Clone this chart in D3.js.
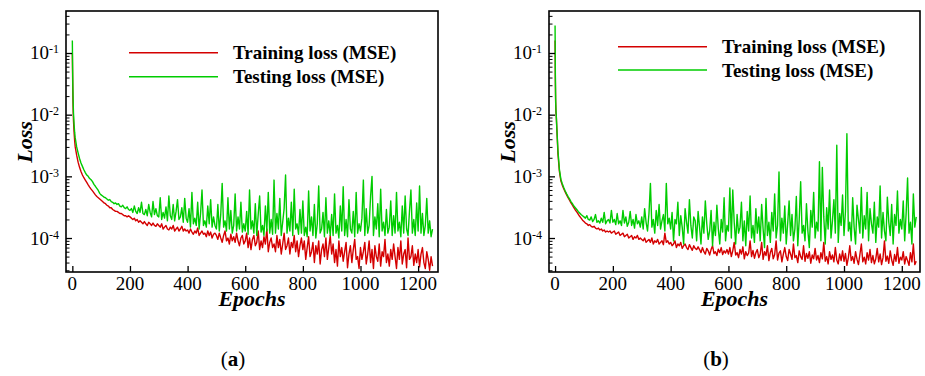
<!DOCTYPE html>
<html>
<head>
<meta charset="utf-8">
<script src="https://cdn.jsdelivr.net/npm/d3@7"></script>
<style>
  body { margin: 0; background: #fff; }
  text { font-family: "Liberation Serif", "Times New Roman", serif; fill: #000; }
</style>
</head>
<body>
<svg width="925" height="376"></svg>
<script>
// loss values are written in units of 1e-5 (so 10 == 1e-4)
var UNIT = 1e-5;

// sampled epochs: a few early ones, then every 5 epochs
var epochs = [0, 1, 2, 3, 4, 6, 8].concat(d3.range(10, 1251, 5));

var trainA = [
  10000, 4000, 1800, 1100, 800, 520, 380,
  300, 220, 170, 140, 120, 105, 95, 87, 80, 73, 67, 62, 58, 54, 50, 47, 45, 43,
  41, 39, 37, 36, 34, 33, 31, 31, 29, 28, 27, 27, 26, 25, 25, 24, 23, 23, 22, 23,
  22, 21, 20, 21, 19, 20, 18, 19, 18, 17, 18.5, 17, 16, 18, 17, 16, 17.5, 16, 15.5, 17,
  16, 15, 17, 14, 15, 16, 14, 13.5, 15, 14, 16, 13, 14, 15, 13, 14, 15.5, 13, 14, 13,
  13.5, 12, 14, 12.5, 11.5, 13, 12, 14.5, 11, 12, 13, 11.5, 12, 10.5, 13, 11, 12.5, 10, 11.5, 12,
  11, 9.5, 12, 10, 8.5, 11, 13, 9, 10, 8, 11.5, 9, 10.5, 8.5, 12, 9, 7.5, 10, 11, 8,
  9, 12, 7, 10, 6.5, 9.5, 11, 7.5, 8.5, 13, 6.5, 9, 7, 10.5, 8, 14, 6, 8.5, 10, 7,
  8, 6, 11, 7, 9.5, 5.5, 8, 12, 6.5, 7.5, 10, 5.5, 8.5, 7, 11, 6, 9, 5, 7.5, 10,
  6.5, 9, 4.5, 7, 10.5, 5, 6, 8.5, 4, 7.5, 5.5, 9, 3.8, 6.5, 8, 5, 10, 4.5, 7, 11,
  5.5, 8, 4, 6.5, 3.5, 9, 5, 7, 4.2, 6, 8.5, 3.3, 5.5, 7.5, 4, 6.5, 9.5, 4.5, 5, 3.2,
  7, 4.5, 6, 8.5, 3.8, 5.5, 9, 4, 6.5, 3.2, 7.5, 5, 4.2, 8, 3.5, 6, 5, 9.5, 4, 5.5,
  3.5, 6.5, 4.5, 8, 5, 3.2, 7, 4.5, 9, 3.8, 5.5, 6.5, 3.3, 10, 4.5, 5, 7.5, 3.6, 5.5, 4,
  6.5, 3.4, 5.5, 7, 4, 3.2, 6, 4.5, 3, 5, 3.5
];

var testA = [
  16000, 5500, 2500, 1500, 1050, 700, 520,
  420, 300, 240, 195, 165, 145, 128, 115, 105, 100, 92, 88, 82, 74, 69, 64, 59, 53,
  50, 48, 46, 45, 43, 41, 42, 39, 38, 36, 37, 35, 36, 33, 32, 34, 31, 30, 32, 29,
  28, 30, 26, 33, 27, 25, 31, 26, 38, 25, 24, 29, 23, 35, 26, 22, 39, 24, 30, 23,
  22, 45, 20, 26, 21, 32, 19, 48, 23, 20, 35, 19, 27, 42, 20, 22, 31, 18, 44, 21,
  18, 30, 15, 55, 17, 21, 16, 38, 14, 25, 60, 16, 19, 15, 33, 17, 42, 15, 22, 16,
  14, 35, 13, 24, 77, 15, 19, 13, 45, 14, 28, 12, 16, 52, 13, 22, 14, 38, 12.5, 17,
  13, 27, 11.5, 60, 14, 19, 12, 36, 11, 24, 48, 12.5, 16, 11, 33, 13, 55, 12, 20, 11.5,
  87, 12, 25, 14, 44, 11, 18, 30, 105, 12, 21, 13, 38, 11, 62, 14, 17, 11.5, 29, 12,
  40, 11, 15, 10.5, 58, 13, 22, 11, 35, 10, 17, 70, 12, 14, 26, 10.5, 45, 12, 19, 11,
  24, 11, 52, 12, 16, 10, 33, 13, 68, 11, 20, 10.5, 42, 14, 12, 27, 10.5, 55, 12, 17,
  13, 21, 87, 11, 30, 12, 16, 47, 100, 11, 22, 14, 36, 10.5, 62, 13, 18, 11, 29, 12,
  15, 40, 11, 23, 12, 55, 13, 18, 10.5, 33, 12, 48, 14, 11, 27, 60, 12, 20, 11, 37,
  13, 70, 12, 25, 11, 16, 44, 12, 19, 10.5, 14
];

var trainB = [
  16000, 3500, 1600, 1100, 1000, 600, 380,
  230, 120, 85, 72, 63, 56, 50, 45, 41, 37, 34, 31, 28.5, 26.5, 24.5, 22.5, 21, 19.5,
  18.5, 17.5, 17, 16, 16.5, 15.5, 15, 15.5, 14.5, 14, 14.5, 13.5, 14, 13, 13.5, 12.5, 13, 12.5, 13, 12,
  12.5, 13, 11.5, 12, 12.5, 11, 11.5, 12, 10.5, 11, 11.5, 10, 10.5, 11, 9.5, 10.5, 10, 11, 9.5, 10,
  9.5, 9, 10, 8.5, 9, 9.5, 8.5, 10, 8, 9, 8.5, 9.5, 8, 8.5, 9, 7.8, 12, 8.5, 9, 8,
  8.5, 7.5, 8, 9, 7, 8, 7.5, 8.5, 6.8, 7.5, 8, 7, 6.5, 7.8, 7, 6.3, 7.5, 6.8, 6.5, 7.2,
  6.5, 5.8, 7, 6, 5.5, 6.8, 6.2, 5.3, 6.5, 7.5, 5.6, 6, 5.2, 6.6, 5.8, 7, 5.4, 6.2, 5.7, 6.5,
  5.5, 7, 5, 6.2, 8.5, 5.3, 5.8, 4.8, 6.5, 5.5, 7.2, 4.6, 6, 5.2, 5.7, 9, 5, 6.3, 4.7, 5.8,
  6.5, 4.8, 5.5, 8.5, 4.5, 6, 5.2, 7.5, 4.3, 5.8, 6.8, 4.6, 5.4, 9, 4.4, 5.7, 6.2, 4.1, 5.5, 7,
  5, 4.3, 6.5, 5.5, 4.5, 8, 4.8, 5.2, 4, 6.2, 5, 4.5, 7.5, 4.2, 5.6, 4.7, 6, 3.9, 5.3, 4.6,
  6.8, 4.4, 5.2, 4, 5.8, 4.6, 8.5, 4.2, 5, 3.8, 6, 4.5, 5.3, 4.1, 7, 4.4, 3.8, 5.5, 4.3, 6.2,
  4.2, 5.6, 3.6, 4.8, 7.5, 4.3, 5, 3.9, 6, 4.5, 3.7, 5.4, 8, 4.1, 4.9, 3.8, 5.8, 4.4, 6.5, 4,
  5.2, 3.8, 4.6, 6.8, 4.1, 5.5, 3.7, 4.8, 9, 4.2, 5.1, 3.9, 6.2, 4.4, 3.6, 5.4, 4.2, 7, 3.9, 4.9,
  4.4, 6, 3.8, 5, 4.3, 3.6, 5.8, 4.1, 8, 3.7, 4.2
];

var testB = [
  28000, 4500, 1800, 1200, 1000, 620, 400,
  260, 130, 90, 76, 66, 58, 52, 47, 43, 39, 36, 33, 31, 29, 27, 25.5, 24, 23,
  22, 21, 23, 20, 19.5, 22, 18.5, 20, 24, 18, 19, 17.5, 21, 18, 26, 17, 19, 20, 17.5, 28,
  18, 20, 16.5, 25, 17, 19, 16, 28, 17.5, 22, 15.5, 18, 27, 16, 20, 14.5, 24, 17, 19, 15,
  22, 14, 30, 18, 13, 25, 77, 15, 20, 12, 28, 16, 35, 14, 19, 24, 13, 77, 17, 21,
  14, 26, 9, 20, 17, 38, 11, 23, 15, 8, 30, 18, 12, 42, 16, 10, 22, 19, 9, 27,
  15, 8, 22, 12, 40, 17, 9.5, 13, 28, 7.5, 18, 11, 34, 14, 8, 20, 12.5, 45, 9, 16,
  13, 65, 10, 60, 18, 8, 24, 12, 15, 38, 9, 19, 7.5, 27, 13, 48, 10, 16, 8.5, 30,
  12, 22, 9, 35, 14, 7, 44, 11, 18, 8.5, 26, 13, 52, 10, 16, 118, 9, 21, 12, 33,
  8, 17, 40, 11, 24, 9, 14, 47, 7.5, 20, 82, 12, 16, 9, 36, 13, 7, 28, 15, 55,
  10, 18, 13, 172, 9, 140, 22, 8, 31, 14, 60, 10, 19, 42, 12, 320, 8.5, 25, 16, 50,
  11, 27, 490, 13, 18, 9, 45, 15, 8, 34, 20, 12, 66, 10, 23, 14, 55, 9, 30, 17,
  12, 38, 8.5, 22, 15, 70, 10, 26, 13, 9, 46, 18, 11, 35, 8, 24, 16, 58, 12, 20,
  14, 40, 9, 25, 94, 12, 18, 8, 52, 15, 22
];

var seriesNames = ["Training loss (MSE)", "Testing loss (MSE)"];
var seriesColors = ["#d40000", "#00cc00"];
var xTickValues = [0, 200, 400, 600, 800, 1000, 1200];
var yMajorTicks = [1e-4, 1e-3, 1e-2, 1e-1];

var svg = d3.select("svg");

var plotTop = 11, plotBottom = 272;

var panels = [
  { tag: "a", left: 66, right: 438, xDomain: [-22, 1269], train: trainA, test: testA,
    legX: 129, legLen: 89, legY: [52.7, 76.7], tagX: 233 },
  { tag: "b", left: 549, right: 920, xDomain: [-21, 1263], train: trainB, test: testB,
    legX: 618, legLen: 89, legY: [46.7, 70], tagX: 716 }
];

// minor ticks on the log axis (2..9 of each decade)
var yMinorTicks = [];
[-5, -4, -3, -2, -1].forEach(function(e) {
  for (var k = 2; k <= 9; k++) yMinorTicks.push(k * Math.pow(10, e));
});

panels.forEach(function(p) {
  var x = d3.scaleLinear().domain(p.xDomain).range([p.left, p.right]);
  var y = d3.scaleLog().domain([Math.pow(10, -4.551), Math.pow(10, -0.319)]).range([plotBottom, plotTop]);
  var yMin = y.domain()[0], yMax = y.domain()[1];

  var g = svg.append("g");

  g.append("clipPath").attr("id", "clip-" + p.tag)
    .append("rect")
    .attr("x", p.left).attr("y", plotTop)
    .attr("width", p.right - p.left).attr("height", plotBottom - plotTop);

  var line = d3.line()
    .x(function(d) { return x(d[0]); })
    .y(function(d) { return y(d[1]); });

  [p.train, p.test].forEach(function(vals, si) {
    var pts = vals.map(function(v, i) { return [epochs[i], v * UNIT]; });
    g.append("path")
      .datum(pts)
      .attr("clip-path", "url(#clip-" + p.tag + ")")
      .attr("d", line)
      .attr("fill", "none")
      .attr("stroke", seriesColors[si])
      .attr("stroke-width", 1.4)
      .attr("stroke-linejoin", "round");
  });

  // x axis, ticks pointing inward
  g.append("g")
    .attr("transform", "translate(0," + plotBottom + ")")
    .call(d3.axisBottom(x).tickValues(xTickValues).tickSize(-6).tickFormat(""))
    .call(function(a) { a.select(".domain").remove(); })
    .selectAll("line").attr("stroke", "#000").attr("stroke-width", 1.3);

  g.selectAll(".xlab")
    .data(xTickValues)
    .enter().append("text")
    .attr("x", function(d) { return x(d); })
    .attr("y", 290)
    .attr("text-anchor", "middle")
    .style("font-size", "19px")
    .text(function(d) { return d; });

  // y axis: minor and major ticks
  g.append("g")
    .attr("transform", "translate(" + p.left + ",0)")
    .call(d3.axisLeft(y).tickValues(yMinorTicks.filter(function(v) { return v >= yMin && v <= yMax; }))
      .tickSize(-3.5).tickFormat(""))
    .call(function(a) { a.select(".domain").remove(); })
    .selectAll("line").attr("stroke", "#000").attr("stroke-width", 1);

  g.append("g")
    .attr("transform", "translate(" + p.left + ",0)")
    .call(d3.axisLeft(y).tickValues(yMajorTicks).tickSize(-6).tickFormat(""))
    .call(function(a) { a.select(".domain").remove(); })
    .selectAll("line").attr("stroke", "#000").attr("stroke-width", 1.3);

  var ylab = g.selectAll(".ylab")
    .data(yMajorTicks)
    .enter().append("text")
    .attr("x", p.left - 7)
    .attr("y", function(d) { return y(d) + 6.5; })
    .attr("text-anchor", "end")
    .style("font-size", "19px");
  ylab.append("tspan").text("10");
  ylab.append("tspan")
    .attr("dy", -6)
    .style("font-size", "12px")
    .text(function(d) { return "-" + Math.round(-Math.log10(d)); });

  // frame
  g.append("rect")
    .attr("x", p.left).attr("y", plotTop)
    .attr("width", p.right - p.left).attr("height", plotBottom - plotTop)
    .attr("fill", "none").attr("stroke", "#000").attr("stroke-width", 1.6);

  // axis titles
  g.append("text")
    .attr("transform", "translate(" + (p.left - 34) + "," + 142 + ") rotate(-90)")
    .attr("text-anchor", "middle")
    .style("font-size", "22px").style("font-weight", "bold").style("font-style", "italic")
    .text("Loss");

  g.append("text")
    .attr("x", (p.left + p.right) / 2)
    .attr("y", 306)
    .attr("text-anchor", "middle")
    .style("font-size", "22px").style("font-weight", "bold").style("font-style", "italic")
    .text("Epochs");

  // legend
  seriesNames.forEach(function(name, si) {
    g.append("line")
      .attr("x1", p.legX).attr("x2", p.legX + p.legLen)
      .attr("y1", p.legY[si]).attr("y2", p.legY[si])
      .attr("stroke", seriesColors[si]).attr("stroke-width", 1.5);
    g.append("text")
      .attr("x", p.legX + p.legLen + 15)
      .attr("y", p.legY[si] + 6.5)
      .style("font-size", "19px").style("font-weight", "bold")
      .text(name);
  });

  // panel tag
  var tag = g.append("text")
    .attr("x", p.tagX)
    .attr("y", 366)
    .attr("text-anchor", "middle")
    .style("font-size", "21px");
  tag.append("tspan").text("(");
  tag.append("tspan").style("font-weight", "bold").text(p.tag);
  tag.append("tspan").text(")");
});
</script>
</body>
</html>
